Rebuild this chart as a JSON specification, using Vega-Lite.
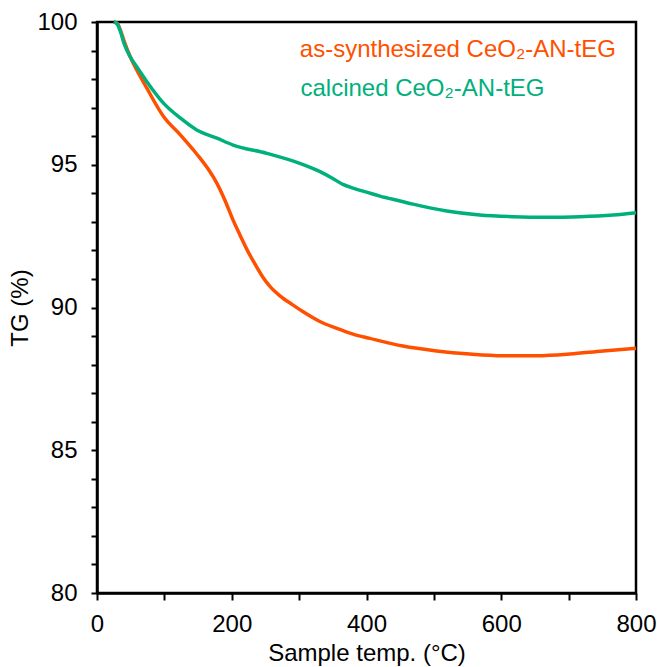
{
  "$schema": "https://vega.github.io/schema/vega-lite/v6.json",
  "width": 539,
  "height": 571,
  "autosize": {"type": "none"},
  "padding": {"left": 97, "top": 22, "right": 21, "bottom": 74},
  "background": "white",
  "config": {
    "font": "Liberation Sans",
    "view": {"stroke": "black", "strokeWidth": 2.5},
    "axis": {
      "domainColor": "black", "domainWidth": 2.5,
      "tickColor": "black", "tickWidth": 2,
      "labelColor": "black", "titleColor": "black",
      "labelFontSize": 24, "titleFontSize": 24, "titleFontWeight": "normal",
      "labelFont": "Liberation Sans", "titleFont": "Liberation Sans",
      "grid": false, "labelOverlap": false, "labelFlush": false
    }
  },
  "datasets": {
    "curves": [
      {"series": "as", "T": 25, "TG": 100},
      {"series": "as", "T": 30, "TG": 99.95},
      {"series": "as", "T": 35, "TG": 99.7},
      {"series": "as", "T": 40, "TG": 99.35},
      {"series": "as", "T": 49, "TG": 98.8},
      {"series": "as", "T": 59, "TG": 98.32},
      {"series": "as", "T": 74, "TG": 97.68},
      {"series": "as", "T": 99, "TG": 96.68},
      {"series": "as", "T": 124, "TG": 96.04},
      {"series": "as", "T": 143, "TG": 95.52},
      {"series": "as", "T": 153, "TG": 95.23},
      {"series": "as", "T": 165, "TG": 94.85},
      {"series": "as", "T": 178, "TG": 94.35},
      {"series": "as", "T": 190, "TG": 93.75},
      {"series": "as", "T": 202, "TG": 93.06},
      {"series": "as", "T": 212, "TG": 92.55},
      {"series": "as", "T": 223, "TG": 92.01},
      {"series": "as", "T": 235, "TG": 91.5},
      {"series": "as", "T": 246, "TG": 91.07},
      {"series": "as", "T": 257, "TG": 90.73},
      {"series": "as", "T": 272, "TG": 90.4},
      {"series": "as", "T": 290, "TG": 90.1},
      {"series": "as", "T": 306, "TG": 89.85},
      {"series": "as", "T": 330, "TG": 89.52},
      {"series": "as", "T": 356, "TG": 89.27},
      {"series": "as", "T": 380, "TG": 89.07},
      {"series": "as", "T": 405, "TG": 88.92},
      {"series": "as", "T": 454, "TG": 88.65},
      {"series": "as", "T": 504, "TG": 88.48},
      {"series": "as", "T": 553, "TG": 88.37},
      {"series": "as", "T": 602, "TG": 88.31},
      {"series": "as", "T": 653, "TG": 88.31},
      {"series": "as", "T": 702, "TG": 88.37},
      {"series": "as", "T": 751, "TG": 88.48},
      {"series": "as", "T": 800, "TG": 88.57},
      {"series": "calcined", "T": 25, "TG": 100},
      {"series": "calcined", "T": 30, "TG": 99.93},
      {"series": "calcined", "T": 35, "TG": 99.65},
      {"series": "calcined", "T": 40, "TG": 99.26},
      {"series": "calcined", "T": 49, "TG": 98.79},
      {"series": "calcined", "T": 59, "TG": 98.43},
      {"series": "calcined", "T": 74, "TG": 97.91},
      {"series": "calcined", "T": 99, "TG": 97.15},
      {"series": "calcined", "T": 124, "TG": 96.63},
      {"series": "calcined", "T": 148, "TG": 96.22},
      {"series": "calcined", "T": 178, "TG": 95.93},
      {"series": "calcined", "T": 202, "TG": 95.69},
      {"series": "calcined", "T": 252, "TG": 95.4},
      {"series": "calcined", "T": 301, "TG": 95.05},
      {"series": "calcined", "T": 331, "TG": 94.76},
      {"series": "calcined", "T": 350, "TG": 94.52},
      {"series": "calcined", "T": 365, "TG": 94.31},
      {"series": "calcined", "T": 380, "TG": 94.18},
      {"series": "calcined", "T": 400, "TG": 94.04},
      {"series": "calcined", "T": 420, "TG": 93.9},
      {"series": "calcined", "T": 450, "TG": 93.73},
      {"series": "calcined", "T": 469, "TG": 93.62},
      {"series": "calcined", "T": 519, "TG": 93.38},
      {"series": "calcined", "T": 568, "TG": 93.24},
      {"series": "calcined", "T": 618, "TG": 93.18},
      {"series": "calcined", "T": 667, "TG": 93.16},
      {"series": "calcined", "T": 717, "TG": 93.18},
      {"series": "calcined", "T": 766, "TG": 93.24},
      {"series": "calcined", "T": 800, "TG": 93.32}
    ],
    "labels": [
      {"series": "as", "T": 301, "TG": 98.76, "label": "as-synthesized CeO₂-AN-tEG"},
      {"series": "calcined", "T": 302, "TG": 97.41, "label": "calcined CeO₂-AN-tEG"}
    ]
  },
  "layer": [
    {
      "data": {"name": "curves"},
      "mark": {"type": "line", "strokeWidth": 3.5, "interpolate": "monotone"},
      "encoding": {
        "x": {
          "field": "T", "type": "quantitative",
          "scale": {"domain": [0, 800], "nice": false},
          "axis": {
            "title": "Sample temp. (°C)",
            "values": [0, 100, 200, 300, 400, 500, 600, 700, 800],
            "tickCount": 30,
            "format": "d",
            "labelExpr": "datum.value % 200 === 0 ? datum.label : ''",
            "labelOverlap": false,
            "tickSize": 7, "labelPadding": 12, "titlePadding": 5
          }
        },
        "y": {
          "field": "TG", "type": "quantitative",
          "scale": {"domain": [80, 100], "nice": false, "zero": false},
          "axis": {
            "title": "TG (%)",
            "values": [80, 81, 82, 83, 84, 85, 86, 87, 88, 89, 90, 91, 92, 93, 94, 95, 96, 97, 98, 99, 100],
            "tickCount": 30,
            "format": "d",
            "labelExpr": "datum.value % 5 === 0 ? datum.label : ''",
            "labelOverlap": false,
            "tickSize": 6, "labelPadding": 14, "titlePadding": 4
          }
        },
        "color": {
          "field": "series", "type": "nominal",
          "scale": {"domain": ["as", "calcined"], "range": ["#FF5000", "#00B07C"]},
          "legend": null
        }
      }
    },
    {
      "data": {"name": "labels"},
      "mark": {"type": "text", "align": "left", "baseline": "alphabetic", "fontSize": 24, "font": "Liberation Sans"},
      "encoding": {
        "x": {"field": "T", "type": "quantitative"},
        "y": {"field": "TG", "type": "quantitative"},
        "text": {"field": "label"},
        "color": {"field": "series", "type": "nominal", "legend": null}
      }
    }
  ]
}
